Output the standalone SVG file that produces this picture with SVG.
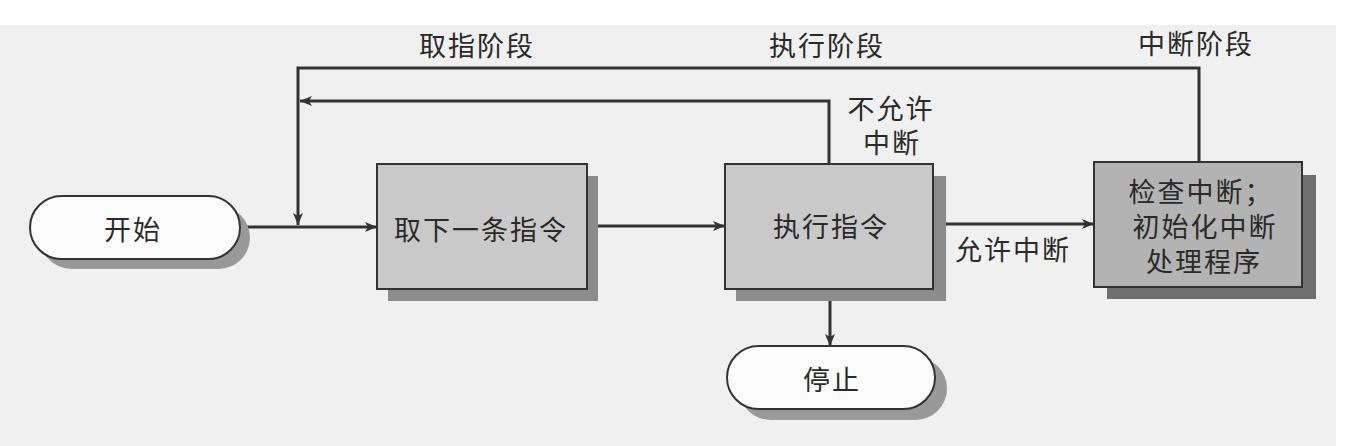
<svg xmlns="http://www.w3.org/2000/svg" width="1351" height="446" viewBox="0 0 1351 446">
<style>
text{font-family:"Noto Sans CJK SC","Noto Sans CJK JP",sans-serif;font-size:27px;letter-spacing:2px;fill:#2a2a2a;text-anchor:middle;dominant-baseline:central}
.line{fill:none;stroke:#333;stroke-width:3}
.pill{fill:#fbfbfb;stroke:#333;stroke-width:2}
.box{fill:#c9c9c9;stroke:#333;stroke-width:2}
.box3{fill:#b3b3b3;stroke:#333;stroke-width:2}
.shadow{fill:#8c8c8c}
.shadow3{fill:#6f6f6f}
</style>
<defs>
<marker id="arr" viewBox="0 0 12 10" refX="12" refY="5" markerWidth="12" markerHeight="10" markerUnits="userSpaceOnUse" orient="auto">
<path d="M0,0 L12,5 L0,10 L3,5 Z" fill="#333"/>
</marker>
</defs>
<rect x="0" y="0" width="1351" height="446" fill="#ffffff"/>
<rect x="0" y="25" width="1336" height="421" fill="#f0f0f0"/>
<g id="labels">
<text x="477" y="44">取指阶段</text>
<text x="827" y="44">执行阶段</text>
<text x="1196" y="42">中断阶段</text>
<text x="891" y="107">不允许</text>
<text x="892" y="141">中断</text>
<text x="1013" y="248">允许中断</text>
</g>
<g id="connectors">
<path class="line" d="M1199,162 V68 H298 V225" marker-end="url(#arr)"/>
<path class="line" d="M829,164 V101 H300" marker-end="url(#arr)"/>
<path class="line" d="M240,227 H377" marker-end="url(#arr)"/>
<path class="line" d="M587,226 H725" marker-end="url(#arr)"/>
<path class="line" d="M933,224 H1094" marker-end="url(#arr)"/>
<path class="line" d="M830,289 V346" marker-end="url(#arr)"/>
</g>
<g id="start">
<rect x="40" y="206" width="210" height="63" rx="31.5" fill="#999"/>
<rect class="pill" x="30" y="196" width="210" height="63" rx="31.5"/>
<text x="133" y="228">开始</text>
</g>
<g id="fetch">
<rect class="shadow" x="388" y="176" width="210" height="125"/>
<rect class="box" x="377" y="164" width="210" height="125"/>
<text x="481" y="228">取下一条指令</text>
</g>
<g id="execute">
<rect class="shadow" x="736" y="176" width="210" height="125"/>
<rect class="box" x="725" y="164" width="208" height="125"/>
<text x="831" y="225">执行指令</text>
</g>
<g id="interrupt">
<rect class="shadow3" x="1107" y="175" width="209" height="124"/>
<rect class="box3" x="1094" y="162" width="208" height="125"/>
<text x="1201" y="190">检查中断；</text>
<text x="1205" y="225">初始化中断</text>
<text x="1204" y="260">处理程序</text>
</g>
<g id="stop">
<rect x="739" y="357" width="208" height="63" rx="31.5" fill="#999"/>
<rect class="pill" x="727" y="346" width="208" height="63" rx="31.5"/>
<text x="832" y="378">停止</text>
</g>
</svg>
